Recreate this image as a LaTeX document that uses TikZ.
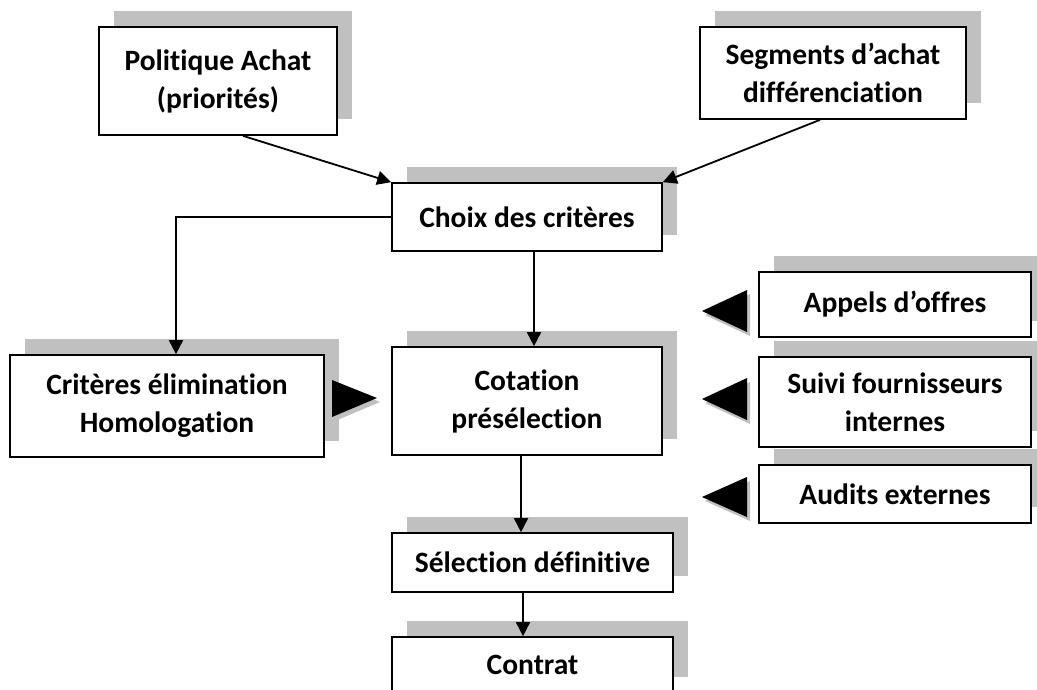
\documentclass[tikz,border=0pt]{standalone}
\usepackage{fontspec}
\setmainfont{Carlito}[Ligatures={NoCommon}]
\usetikzlibrary{arrows.meta,shadows,calc}
\definecolor{shadowgray}{RGB}{192,192,192}
\tikzset{
  box/.style={draw=black, fill=white, line width=1.7pt, inner sep=0pt,
    align=center, font=\fontsize{29.5}{38}\selectfont\bfseries,
    drop shadow={shadow xshift=15pt, shadow yshift=16pt, fill=shadowgray, opacity=1}},
  conn/.style={line width=1.8pt, -{Triangle[length=14pt,width=14pt]}},
  tri/.style={fill=black},
  trishadow/.style={fill=shadowgray}
}
\begin{document}
\begin{tikzpicture}[x=1pt,y=-1pt]
\useasboundingbox (0,0) rectangle (1037,689);
\clip (0,0) rectangle (1037,689);
\node[box, minimum width=238pt, minimum height=108pt] (pol) at (218,81) {Politique Achat\\(priorités)};
\node[box, minimum width=266pt, minimum height=92pt] (seg) at (833,73) {Segments d’achat\\différenciation};
\node[box, minimum width=270pt, minimum height=68pt] (choix) at (527,217) {Choix des critères};
\node[box, minimum width=270pt, minimum height=108pt] (cot) at (527,401) {Cotation\\présélection};
\node[box, minimum width=314pt, minimum height=102pt] (crit) at (167,406) {Critères élimination\\Homologation};
\node[box, minimum width=272pt, minimum height=65pt] (app) at (895,304.5) {Appels d’offres};
\node[box, minimum width=272pt, minimum height=90pt] (suivi) at (895,402) {Suivi fournisseurs\\internes};
\node[box, minimum width=272pt, minimum height=58pt] (aud) at (895,494) {Audits externes};
\node[box, minimum width=281pt, minimum height=59pt] (sel) at (532.5,562.5) {Sélection définitive};
\node[box, minimum width=281pt, minimum height=56pt] (con) at (532.5,665) {Contrat};
% connectors
\draw[conn] ([xshift=25pt]pol.south) -- (choix.north west);
\draw[conn] ([xshift=-13pt]seg.south) -- (choix.north east);
\draw[conn] ([xshift=7pt]choix.south) -- ([xshift=7pt]cot.north);
\draw[conn] (choix.west) -| ([xshift=9pt]crit.north);
\draw[conn] ([xshift=-6pt]cot.south) -- ([xshift=-6pt]cot.south |- sel.north);
\draw[conn] ([xshift=-9.5pt]sel.south) -- ([xshift=-9.5pt]sel.south |- con.north);
% triangles
\fill[trishadow] (335,384) -- (380,402) -- (335,421) -- cycle;
\fill[tri] (332,380) -- (377,398) -- (332,417) -- cycle;
\fill[trishadow] (750,294) -- (705,315) -- (750,336) -- cycle;
\fill[tri] (747,290) -- (702,311) -- (747,332) -- cycle;
\fill[trishadow] (750,382) -- (705,403) -- (750,424) -- cycle;
\fill[tri] (747,378) -- (702,399) -- (747,420) -- cycle;
\fill[trishadow] (750,481) -- (705,501) -- (750,521) -- cycle;
\fill[tri] (747,477) -- (702,497) -- (747,517) -- cycle;
\end{tikzpicture}
\end{document}
